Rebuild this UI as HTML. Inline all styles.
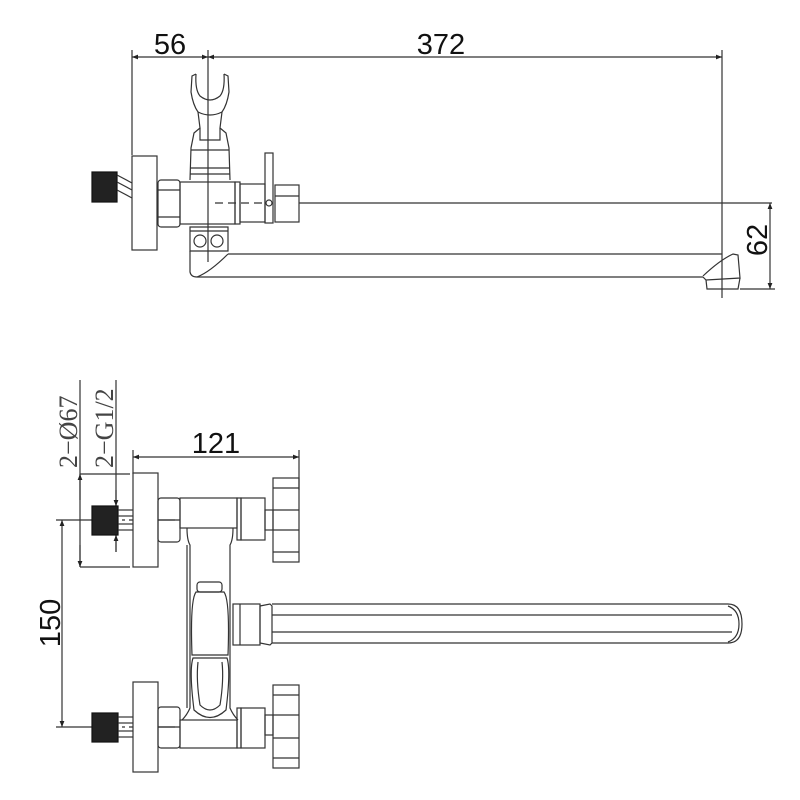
<!DOCTYPE html>
<html><head><meta charset="utf-8"><style>
html,body{margin:0;padding:0;background:#fff;}
svg{display:block}
text{font-family:"Liberation Sans",sans-serif;fill:#111}
</style></head><body>
<svg width="800" height="800" viewBox="0 0 800 800" xmlns="http://www.w3.org/2000/svg">
<defs>
<marker id="a" viewBox="0 0 10 10" refX="10" refY="5" markerWidth="10" markerHeight="6" orient="auto-start-reverse" markerUnits="userSpaceOnUse"><path d="M0,1 L10,5 L0,9 z" fill="#222"/></marker>
</defs>
<g stroke="#333" stroke-width="1.2" fill="none">
<line x1="132" y1="57" x2="208" y2="57" marker-start="url(#a)" marker-end="url(#a)"/>
<line x1="208" y1="57" x2="722" y2="57" marker-start="url(#a)" marker-end="url(#a)"/>
<line x1="132" y1="50" x2="132" y2="155"/>
<line x1="208" y1="50" x2="208" y2="262"/>
<line x1="722" y1="50" x2="722" y2="298"/>
<rect x="92" y="172" width="25" height="30" fill="#222" stroke="#111"/>
<line x1="117" y1="175" x2="132" y2="183"/><line x1="117" y1="182" x2="132" y2="190"/><line x1="117" y1="190" x2="132" y2="198"/>
<rect x="132" y="156" width="25" height="94" fill="#fff"/>
<rect x="158" y="180" width="22" height="47" rx="3"/>
<line x1="158" y1="190" x2="180" y2="190"/><line x1="158" y1="217" x2="180" y2="217"/>
<rect x="180" y="182" width="55" height="42"/>
<rect x="235" y="182" width="5" height="42"/>
<rect x="240" y="184" width="25" height="38"/>
<rect x="265" y="153" width="8" height="70"/>
<circle cx="269" cy="203" r="3"/>
<rect x="275" y="185" width="24" height="37"/>
<line x1="275" y1="196" x2="299" y2="196"/>
<line x1="215" y1="203" x2="265" y2="203" stroke-dasharray="8,5"/>
<line x1="299" y1="203" x2="772" y2="203"/>
<path d="M196,74 L192,76 L191,92 Q193,105 198,112 L200,128 L194,133 L191,148 L190,180"/>
<path d="M224,74 L228,76 L229,92 Q227,105 222,112 L220,128 L226,133 L229,148 L230,180"/>
<path d="M196,74 Q195,90 200,96 Q210,104 220,96 Q225,90 224,74"/>
<path d="M198,112 Q210,118 222,112"/>
<path d="M200,128 L200,140 L220,140 L220,128"/>
<line x1="191" y1="150" x2="229" y2="150"/>
<line x1="190" y1="168" x2="230" y2="168"/>
<line x1="190" y1="174" x2="230" y2="174"/>
<path d="M190,227 L228,227 L228,251 L190,251 Z"/>
<line x1="190" y1="231" x2="228" y2="231"/>
<circle cx="200" cy="241" r="6"/><circle cx="217" cy="241" r="6"/>
<path d="M190,251 L190,272 Q191,277 197,277"/>
<line x1="228" y1="254" x2="722" y2="254"/>
<line x1="197" y1="277" x2="703" y2="277"/>
<path d="M197,277 Q210,272 228,254"/>
<path d="M703,277 L706,280 L740,278 L738,255 L733,254 Q720,260 703,276"/>
<path d="M706,280 L707,289 L738,289 L740,278"/>
<line x1="770" y1="203" x2="770" y2="289" marker-start="url(#a)" marker-end="url(#a)"/>
<line x1="740" y1="289" x2="775" y2="289"/>

<line x1="133" y1="457" x2="299" y2="457" marker-start="url(#a)" marker-end="url(#a)"/>
<line x1="133" y1="450" x2="133" y2="474"/>
<line x1="299" y1="450" x2="299" y2="490"/>
<line x1="80" y1="380" x2="80" y2="567"/>
<line x1="80" y1="474" x2="130" y2="474"/>
<line x1="80" y1="567" x2="130" y2="567"/>
<line x1="80" y1="500" x2="80" y2="474" marker-end="url(#a)"/>
<line x1="80" y1="545" x2="80" y2="567" marker-end="url(#a)"/>
<line x1="116" y1="380" x2="116" y2="552"/>
<line x1="116" y1="490" x2="116" y2="506" marker-end="url(#a)"/>
<line x1="116" y1="552" x2="116" y2="535" marker-end="url(#a)"/>
<line x1="62" y1="520" x2="62" y2="727" marker-start="url(#a)" marker-end="url(#a)"/>
<line x1="56" y1="520" x2="100" y2="520"/>
<line x1="56" y1="727" x2="100" y2="727"/>
<line x1="100" y1="520" x2="175" y2="520" stroke-dasharray="18,4,3,4"/>
<line x1="100" y1="727" x2="175" y2="727" stroke-dasharray="18,4,3,4"/>
<rect x="92" y="506" width="26" height="29" fill="#222" stroke="#111"/>
<line x1="118" y1="510" x2="133" y2="510"/><line x1="118" y1="516" x2="133" y2="516"/><line x1="118" y1="524" x2="133" y2="524"/><line x1="118" y1="530" x2="133" y2="530"/>
<rect x="133" y="473" width="25" height="94" fill="#fff"/>
<rect x="158" y="498" width="22" height="44" rx="3"/>
<line x1="158" y1="520" x2="180" y2="520"/>
<rect x="180" y="498" width="57" height="30"/>
<rect x="237" y="498" width="4" height="42"/>
<rect x="241" y="498" width="24" height="42"/>
<rect x="265" y="510" width="8" height="20"/>
<rect x="273" y="478" width="26" height="84"/>
<line x1="273" y1="488" x2="299" y2="488"/><line x1="273" y1="510" x2="299" y2="510"/><line x1="273" y1="530" x2="299" y2="530"/><line x1="273" y1="552" x2="299" y2="552"/>
<path d="M187,528 Q187,540 190,545 L190,708 Q187,715 182,720"/>
<path d="M233,528 Q233,540 230,545 L230,708 Q233,715 238,720"/>
<path d="M187,545 L187,708"/>
<rect x="197" y="582" width="25" height="10" rx="3"/>
<path d="M196,592 Q190,600 192,655 L228,655 Q230,600 224,592 Z"/>
<path d="M193,658 Q189,670 194,710 Q210,725 226,710 Q231,670 227,658 Z"/>
<path d="M198,662 Q196,680 200,705 Q210,715 220,705 Q224,680 222,662"/>
<rect x="233" y="604" width="27" height="41"/>
<line x1="240" y1="604" x2="240" y2="645"/>
<path d="M260,606 L270,604 L272,606 L272,643 L270,645 L260,643 Z"/>
<path d="M272,604 L728,604 Q742,604 742,624 Q742,643 728,643 L272,643"/>
<path d="M728,606 Q739,610 739,624 Q739,638 728,642"/>
<line x1="272" y1="615" x2="732" y2="615"/>
<line x1="272" y1="632" x2="732" y2="632"/>
<rect x="92" y="713" width="26" height="29" fill="#222" stroke="#111"/>
<line x1="118" y1="717" x2="133" y2="717"/><line x1="118" y1="723" x2="133" y2="723"/><line x1="118" y1="731" x2="133" y2="731"/><line x1="118" y1="737" x2="133" y2="737"/>
<rect x="133" y="682" width="25" height="90" fill="#fff"/>
<rect x="158" y="707" width="22" height="41" rx="3"/>
<line x1="158" y1="727" x2="180" y2="727"/>
<rect x="180" y="720" width="57" height="28"/>
<rect x="237" y="708" width="4" height="40"/>
<rect x="241" y="708" width="24" height="40"/>
<rect x="265" y="715" width="8" height="20"/>
<rect x="273" y="685" width="26" height="83"/>
<line x1="273" y1="695" x2="299" y2="695"/><line x1="273" y1="715" x2="299" y2="715"/><line x1="273" y1="738" x2="299" y2="738"/><line x1="273" y1="758" x2="299" y2="758"/>
</g>
<text x="170" y="54" font-size="29" text-anchor="middle">56</text>
<text x="441" y="54" font-size="29" text-anchor="middle">372</text>
<text transform="translate(767,240) rotate(-90)" font-size="29" text-anchor="middle">62</text>
<text x="216" y="453" font-size="29" text-anchor="middle">121</text>
<text transform="translate(60,623) rotate(-90)" font-size="29" text-anchor="middle">150</text>
<text transform="translate(77,468) rotate(-90)" font-size="26" style="font-family:'Liberation Serif',serif;fill:#444">2−Ø67</text>
<text transform="translate(113,468) rotate(-90)" font-size="26" style="font-family:'Liberation Serif',serif;fill:#444">2−G1/2</text>
</svg>
</body></html>
